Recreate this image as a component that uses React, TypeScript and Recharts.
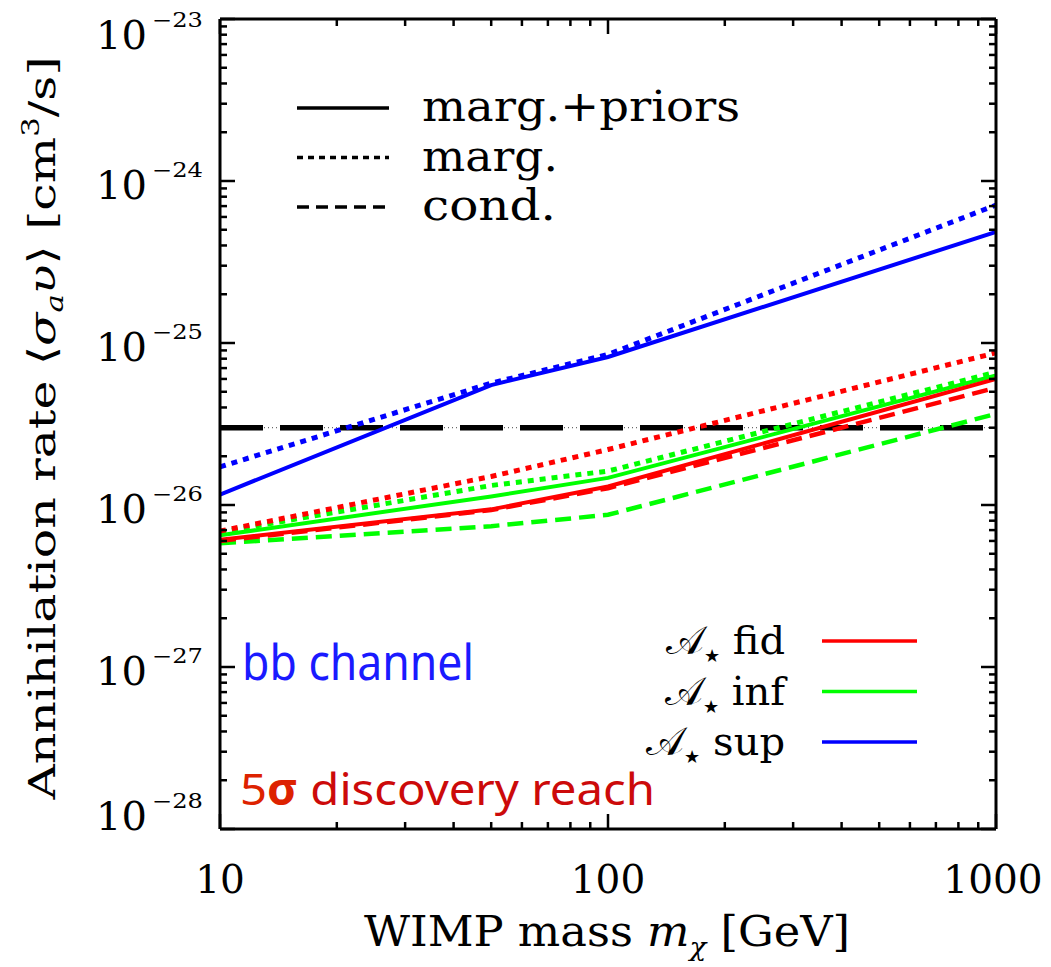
import React from 'react';
import { LineChart, Line, XAxis, YAxis, ReferenceLine } from 'recharts';

// ---------- data ----------
const masses = [10, 50, 100, 1000]; // WIMP mass [GeV]

// A* fid (red)
const fidMargPriors = [6.1e-27, 9.4e-27, 1.3e-26, 6.0e-26];
const fidMarg = [6.9e-27, 1.5e-26, 2.2e-26, 8.7e-26];
const fidCond = [6.0e-27, 9.3e-27, 1.27e-26, 5.3e-26];
// A* inf (green)
const infMargPriors = [6.5e-27, 1.13e-26, 1.47e-26, 6.3e-26];
const infMarg = [6.8e-27, 1.32e-26, 1.62e-26, 6.6e-26];
const infCond = [5.8e-27, 7.4e-27, 8.7e-27, 3.65e-26];
// A* sup (blue)
const supMargPriors = [1.16e-26, 5.5e-26, 8.2e-26, 4.85e-25];
const supMarg = [1.72e-26, 5.65e-26, 8.5e-26, 7.1e-25];

const thermalRelic = 3e-26;

const xDomain = [10, 1000];
const yDomain = [1e-28, 1e-23];
const xTicks = [10, 20, 30, 40, 50, 60, 70, 80, 90, 100, 200, 300, 400, 500, 600, 700, 800, 900, 1000];
const xTickLabels: Record<number, string> = { 10: '10', 100: '100', 1000: '1000' };
const yDecades = [-28, -27, -26, -25, -24];
const yMultipliers = [1, 2, 3, 4, 5, 6, 7, 8, 9];
const yTicks: number[] = [];
yDecades.forEach((d) => yMultipliers.forEach((m) => yTicks.push(Number((m * Math.pow(10, d)).toPrecision(3)))));
yTicks.push(1e-23);

const styleLegend = [
  { label: 'marg.+priors', dash: undefined as string | undefined, len: 318 },
  { label: 'marg.', dash: '6 5', len: 136 },
  { label: 'cond.', dash: '12 7', len: 134 },
];
const modelLegend = [
  { label: 'fid', color: '#ff0000' },
  { label: 'inf', color: '#00ff00' },
  { label: 'sup', color: '#0000ff' },
];

const rows = masses.map((m, i) => ({
  m,
  fidMargPriors: fidMargPriors[i],
  fidMarg: fidMarg[i],
  fidCond: fidCond[i],
  infMargPriors: infMargPriors[i],
  infMarg: infMarg[i],
  infCond: infCond[i],
  supMargPriors: supMargPriors[i],
  supMarg: supMarg[i],
}));

const FONT = 'DejaVu Serif';
const W = 1051;
const H = 967;

const isMajor = (v: number) => {
  const lg = Math.log10(v);
  return Math.abs(lg - Math.round(lg)) < 1e-6;
};

const LeftTick = (props: any) => {
  const { x, y, payload } = props;
  const v = payload.value;
  const major = isMajor(v);
  const len = major ? 15 : 7;
  const exp = Math.round(Math.log10(v));
  let shift = 0;
  if (Math.abs(v - yDomain[1]) / yDomain[1] < 1e-6) shift = 12;
  if (Math.abs(v - yDomain[0]) / yDomain[0] < 1e-6) shift = -17;
  return (
    <g>
      <line x1={x} x2={x + len} y1={y} y2={y} stroke="#000" strokeWidth={2.5} />
      {major && (
        <g fontFamily={FONT} fill="#000">
          <text x={x - 73} y={y + 18 + shift} textAnchor="end" fontSize={40}>10</text>
          <text x={x - 68} y={y - 4 + shift} textAnchor="start" fontSize={20} textLength={51} lengthAdjust="spacingAndGlyphs">
            {'\u2212' + Math.abs(exp)}
          </text>
        </g>
      )}
    </g>
  );
};

const RightTick = (props: any) => {
  const { x, y, payload } = props;
  const len = isMajor(payload.value) ? 15 : 7;
  return <line x1={x} x2={x - len} y1={y} y2={y} stroke="#000" strokeWidth={2.5} />;
};

const BottomTick = (props: any) => {
  const { x, y, payload } = props;
  const v = payload.value;
  const major = isMajor(v);
  const len = major ? 15 : 7;
  const label = xTickLabels[v];
  const dx = v === xDomain[1] ? -3 : 0;
  return (
    <g>
      <line x1={x} x2={x} y1={y} y2={y - len} stroke="#000" strokeWidth={2.5} />
      {label && (
        <text x={x + dx} y={y + 64} textAnchor="middle" fontFamily={FONT} fontSize={39} fill="#000">
          {label}
        </text>
      )}
    </g>
  );
};

const TopTick = (props: any) => {
  const { x, y, payload } = props;
  const len = isMajor(payload.value) ? 15 : 7;
  return <line x1={x} x2={x} y1={y} y2={y + len} stroke="#000" strokeWidth={2.5} />;
};

const axisLine = { stroke: '#000', strokeWidth: 3 };

export default function App() {
  return (
    <div style={{ position: 'absolute', left: 0, top: 0, width: W, height: H, background: '#fff' }}>
      <LineChart width={W} height={H} data={rows} margin={{ top: 0, right: 0, bottom: 0, left: 0 }}>
        <XAxis
          xAxisId="b"
          dataKey="m"
          type="number"
          scale="log"
          domain={xDomain}
          allowDataOverflow
          ticks={xTicks}
          interval={0}
          tickSize={0}
          tickMargin={0}
          tickLine={false}
          axisLine={axisLine}
          tick={<BottomTick />}
          height={138}
          orientation="bottom"
        />
        <XAxis
          xAxisId="t"
          dataKey="m"
          type="number"
          scale="log"
          domain={xDomain}
          allowDataOverflow
          ticks={xTicks}
          interval={0}
          tickSize={0}
          tickMargin={0}
          tickLine={false}
          axisLine={axisLine}
          tick={<TopTick />}
          height={19}
          orientation="top"
        />
        <YAxis
          yAxisId="l"
          type="number"
          scale="log"
          domain={yDomain}
          allowDataOverflow
          ticks={yTicks}
          interval={0}
          tickSize={0}
          tickMargin={0}
          tickLine={false}
          axisLine={axisLine}
          tick={<LeftTick />}
          width={220}
          orientation="left"
        />
        <YAxis
          yAxisId="r"
          type="number"
          scale="log"
          domain={yDomain}
          allowDataOverflow
          ticks={yTicks}
          interval={0}
          tickSize={0}
          tickMargin={0}
          tickLine={false}
          axisLine={axisLine}
          tick={<RightTick />}
          width={55}
          orientation="right"
        />
        <ReferenceLine xAxisId="b" yAxisId="l" y={thermalRelic} stroke="#444" strokeWidth={1} strokeDasharray="1 3" />
        <ReferenceLine xAxisId="b" yAxisId="l" y={thermalRelic} stroke="#000" strokeWidth={5.5} strokeDasharray="43 17" />

        <Line xAxisId="t" yAxisId="r" dataKey="supMarg" stroke="none" dot={false} activeDot={false} isAnimationActive={false} />

        <Line xAxisId="b" yAxisId="l" dataKey="infCond" stroke="#00ff00" strokeWidth={4.5} strokeDasharray="16 8" dot={false} isAnimationActive={false} />
        <Line xAxisId="b" yAxisId="l" dataKey="infMarg" stroke="#00ff00" strokeWidth={5} strokeDasharray="6 6" dot={false} isAnimationActive={false} />
        <Line xAxisId="b" yAxisId="l" dataKey="infMargPriors" stroke="#00ff00" strokeWidth={4} dot={false} isAnimationActive={false} />
        <Line xAxisId="b" yAxisId="l" dataKey="fidCond" stroke="#ff0000" strokeWidth={4.5} strokeDasharray="16 8" dot={false} isAnimationActive={false} />
        <Line xAxisId="b" yAxisId="l" dataKey="fidMarg" stroke="#ff0000" strokeWidth={5} strokeDasharray="6 6" dot={false} isAnimationActive={false} />
        <Line xAxisId="b" yAxisId="l" dataKey="fidMargPriors" stroke="#ff0000" strokeWidth={4} dot={false} isAnimationActive={false} />
        <Line xAxisId="b" yAxisId="l" dataKey="supMarg" stroke="#0000ff" strokeWidth={5} strokeDasharray="6 6" dot={false} isAnimationActive={false} />
        <Line xAxisId="b" yAxisId="l" dataKey="supMargPriors" stroke="#0000ff" strokeWidth={4} dot={false} isAnimationActive={false} />
      </LineChart>

      <svg width={W} height={H} style={{ position: 'absolute', left: 0, top: 0, pointerEvents: 'none' }}>
        {/* axis titles */}
        <text
          transform="translate(55,428) rotate(-90)"
          textAnchor="middle"
          fontFamily={FONT}
          fontSize={38}
          fill="#000"
          textLength={743}
          lengthAdjust="spacingAndGlyphs"
        >
          Annihilation rate {'\u27E8'}
          <tspan fontStyle="italic">σ</tspan>
          <tspan fontStyle="italic" fontSize={24} dy={8}>a</tspan>
          <tspan fontStyle="italic" dy={-8}>υ</tspan>
          {'\u27E9 [cm'}
          <tspan fontSize={24} dy={-16}>3</tspan>
          <tspan dy={16}>/s]</tspan>
        </text>
        <text x={607} y={946} textAnchor="middle" fontFamily={FONT} fontSize={42} fill="#000" textLength={486} lengthAdjust="spacingAndGlyphs">
          WIMP mass <tspan fontStyle="italic">m</tspan>
          <tspan fontStyle="italic" fontSize={26} dy={10}>χ</tspan>
          <tspan dy={-10}> [GeV]</tspan>
        </text>

        {/* line-style legend */}
        {styleLegend.map((s, i) => (
          <g key={s.label}>
            <line x1={297} x2={389} y1={108 + i * 49.5} y2={108 + i * 49.5} stroke="#000" strokeWidth={3.5} strokeDasharray={s.dash} />
            <text x={422} y={121 + i * 49.5} fontFamily={FONT} fontSize={42} fill="#000" textLength={s.len} lengthAdjust="spacingAndGlyphs">
              {s.label}
            </text>
          </g>
        ))}

        {/* model legend */}
        {modelLegend.map((s, i) => (
          <g key={s.label}>
            <text x={785} y={654 + i * 50.5} textAnchor="end" fontFamily={FONT} fontSize={40} fill="#000">
              {'\u{1D49C}'}
              <tspan fontSize={18} dy={8}>★</tspan>
              <tspan dy={-8}>{' ' + s.label}</tspan>
            </text>
            <line x1={822} x2={917} y1={641 + i * 50.5} y2={641 + i * 50.5} stroke={s.color} strokeWidth={3.5} />
          </g>
        ))}

        {/* annotations */}
        <text x={242} y={680} fontFamily="Noto Sans" fontSize={50} fill="#1a1aff" textLength={232} lengthAdjust="spacingAndGlyphs">
          bb channel
        </text>
        <text x={240} y={805} fontFamily="Noto Sans" fontSize={44} fill="#cc0a0a" textLength={415} lengthAdjust="spacingAndGlyphs">
          <tspan fill="#dd2200">5</tspan>
          <tspan fill="#dd2200" fontWeight="bold">σ</tspan> discovery reach
        </text>
      </svg>
    </div>
  );
}
